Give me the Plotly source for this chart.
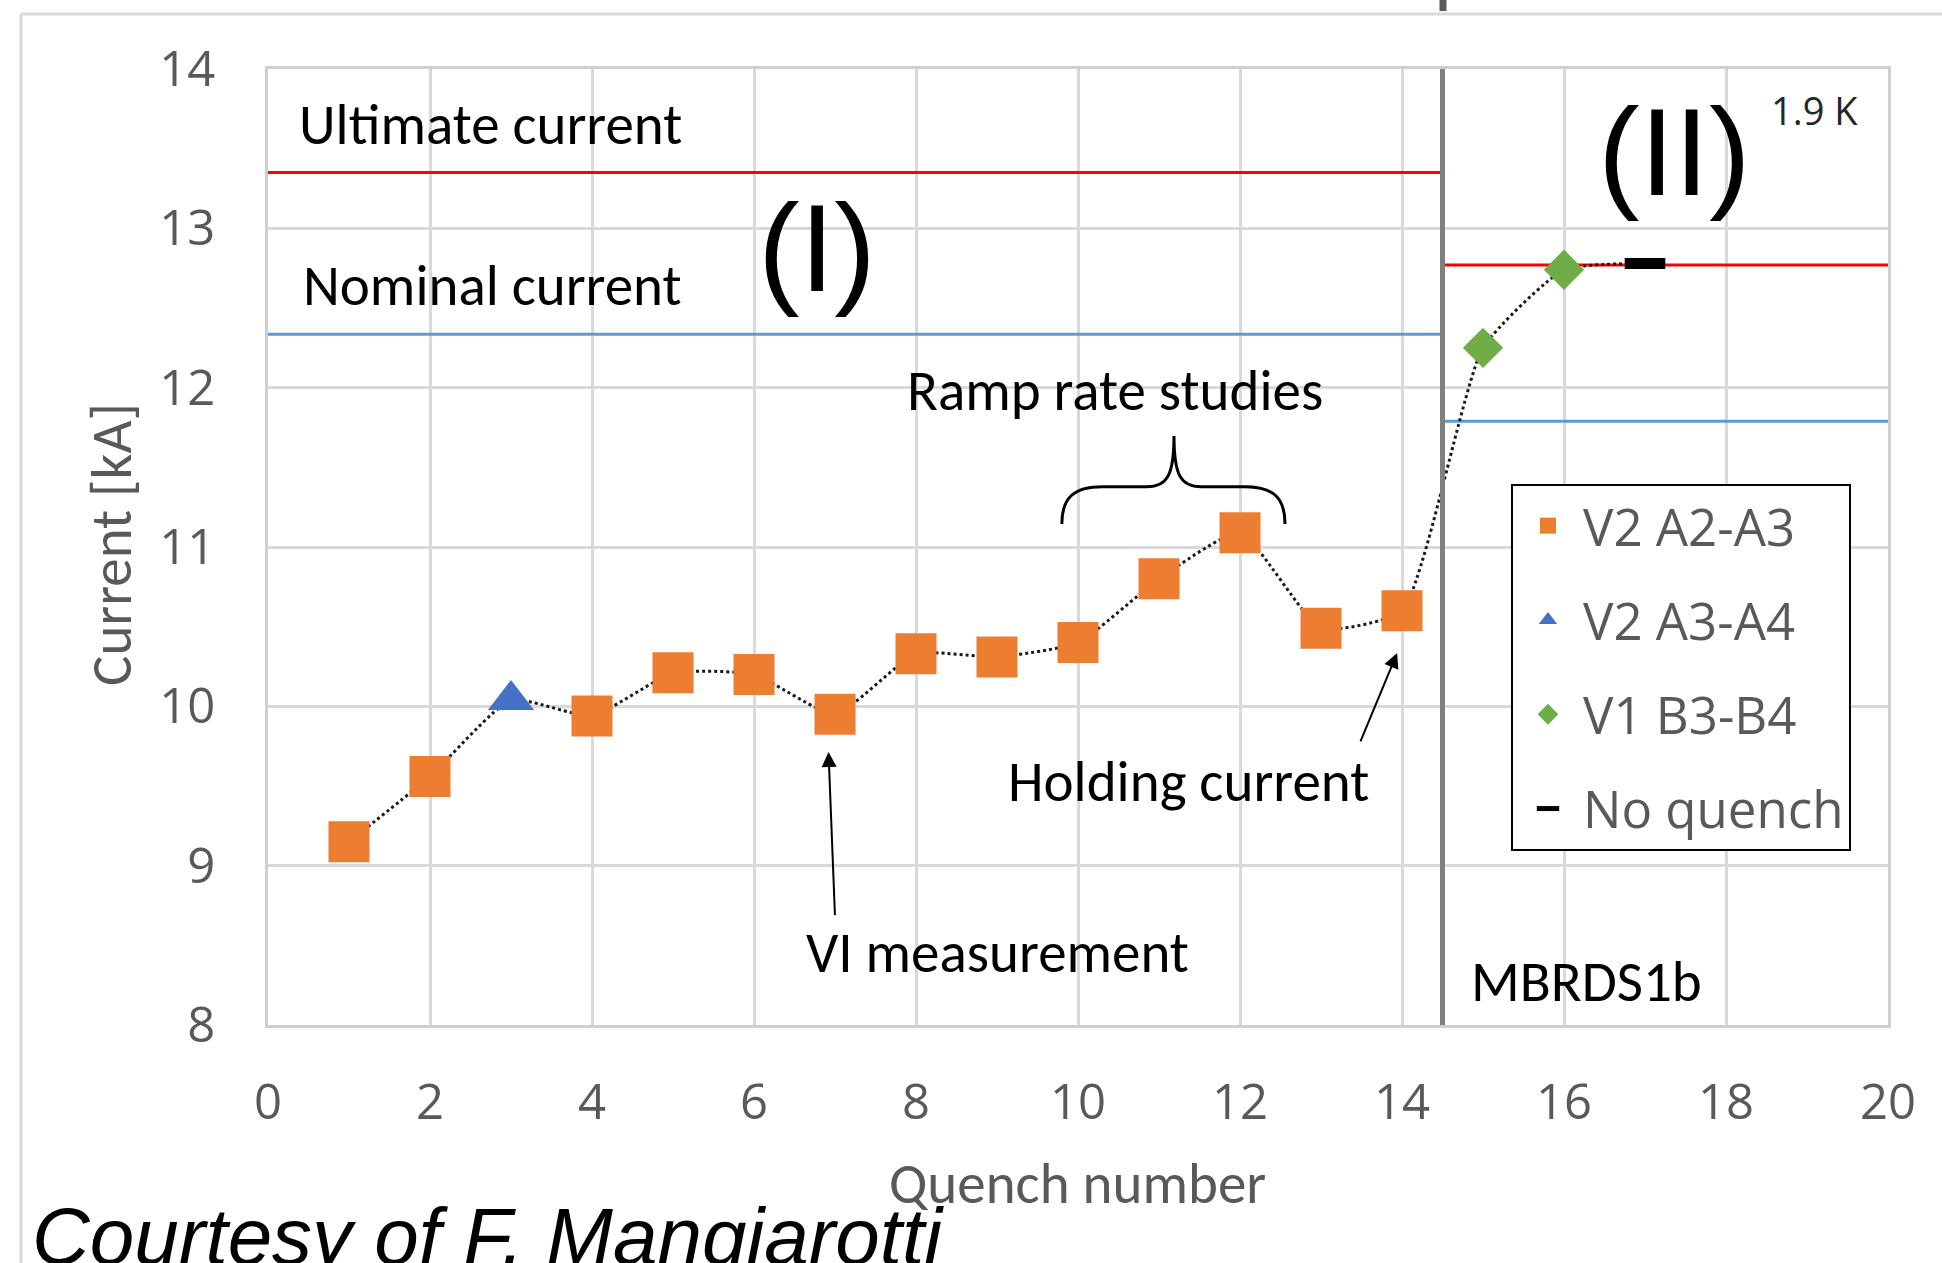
import plotly.graph_objects as go

# ---------------- data ----------------
q_a2a3 = [1, 2, 4, 5, 6, 7, 8, 9, 10, 11, 12, 13, 14]
i_a2a3 = [9.15, 9.56, 9.94, 10.21, 10.20, 9.95, 10.33, 10.31, 10.40, 10.80, 11.09, 10.49, 10.60]
q_a3a4 = [3]
i_a3a4 = [10.04]
q_b3b4 = [15, 16]
i_b3b4 = [12.25, 12.74]
q_noq = [17]
i_noq = [12.78]

# limit lines (region I: quench 0-14.5, region II: 14.5-20)
region_I_x = [0, 14.5]
region_II_x = [14.5, 20]
ultimate_I, nominal_I = 13.35, 12.335
ultimate_II, nominal_II = 12.77, 11.79
separator_x = 14.5

x_ticks = list(range(0, 21, 2))
y_ticks = list(range(8, 15))

# ---------------- layout geometry ----------------
W, H = 1942, 1263
L, R, T, B = 268, 1888, 69, 1025


def px_x(px):
    return (px - L) / (R - L)


def px_y(py):
    return (B - py) / (B - T)


LABEL_FONT = "Calibri, Carlito, Lato, sans-serif"
TICK_FONT = "Segoe UI, Open Sans, sans-serif"
LSIZE = 57

ORANGE = "#ED7D31"
BLUE = "#4472C4"
GREEN = "#70AD47"

fig = go.Figure()

# limit lines
fig.add_trace(go.Scatter(x=region_I_x, y=[ultimate_I] * 2, mode="lines",
                         line=dict(color="#FF0000", width=3), showlegend=False, hoverinfo="skip"))
fig.add_trace(go.Scatter(x=region_I_x, y=[nominal_I] * 2, mode="lines",
                         line=dict(color="#5B9BD5", width=3), showlegend=False, hoverinfo="skip"))
fig.add_trace(go.Scatter(x=region_II_x, y=[ultimate_II] * 2, mode="lines",
                         line=dict(color="#FF0000", width=3), showlegend=False, hoverinfo="skip"))
fig.add_trace(go.Scatter(x=region_II_x, y=[nominal_II] * 2, mode="lines",
                         line=dict(color="#5B9BD5", width=3), showlegend=False, hoverinfo="skip"))

# dotted connector through all quenches in order
pts = sorted(zip(q_a2a3 + q_a3a4 + q_b3b4 + q_noq, i_a2a3 + i_a3a4 + i_b3b4 + i_noq))
fig.add_trace(go.Scatter(x=[p[0] for p in pts], y=[p[1] for p in pts], mode="lines",
                         line=dict(color="#1a1a1a", width=3, dash="dot", shape="spline", smoothing=0.5),
                         showlegend=False, hoverinfo="skip"))

fig.add_trace(go.Scatter(x=q_a2a3, y=i_a2a3, mode="markers", name="V2 A2-A3", legendgroup="a",
                         marker=dict(symbol="square", size=41, color=ORANGE)))
fig.add_trace(go.Scatter(x=q_a3a4, y=i_a3a4, mode="markers", name="V2 A3-A4", legendgroup="b",
                         marker=dict(symbol="triangle-up", size=40, color=BLUE)))
fig.add_trace(go.Scatter(x=q_b3b4, y=i_b3b4, mode="markers", name="V1 B3-B4", legendgroup="c",
                         marker=dict(symbol="diamond", size=31, color=GREEN)))
fig.add_trace(go.Scatter(x=q_noq, y=i_noq, mode="markers", name="No quench", legendgroup="d",
                         marker=dict(symbol="line-ew", size=29, color="black",
                                     line=dict(color="black", width=11))))

# separator between the two magnets
fig.add_shape(type="line", xref="x", yref="y", x0=separator_x, x1=separator_x, y0=8, y1=14,
              line=dict(color="#7F7F7F", width=5))

# curly brace above ramp rate studies
fig.add_shape(type="path", xref="x", yref="y",
              path=("M 9.80,11.144 C 9.80,11.31 9.95,11.378 10.30,11.378 "
                    "L 10.85,11.378 C 11.10,11.378 11.185,11.45 11.185,11.697 "
                    "C 11.185,11.45 11.27,11.378 11.52,11.378 "
                    "L 12.06,11.378 C 12.41,11.378 12.556,11.31 12.556,11.144"),
              line=dict(color="black", width=3))

# outer frame of the picture
fig.add_shape(type="line", xref="paper", yref="paper", x0=px_x(21), x1=px_x(W + 5),
              y0=px_y(14), y1=px_y(14), line=dict(color="#D9D9D9", width=3))
fig.add_shape(type="line", xref="paper", yref="paper", x0=px_x(21), x1=px_x(21),
              y0=px_y(14), y1=px_y(H + 5), line=dict(color="#D9D9D9", width=3))
fig.add_shape(type="line", xref="paper", yref="paper", x0=px_x(1443), x1=px_x(1443),
              y0=px_y(-2), y1=px_y(11), line=dict(color="#5A5A5A", width=7))

ann = []


def text(x, y, s, size, xanchor="center", color="black", font=LABEL_FONT, **kw):
    ann.append(dict(x=x, y=y, xref="x", yref="y", text=s, showarrow=False, xanchor=xanchor,
                    yanchor="middle", font=dict(family=font, size=size, color=color), **kw))


text(0.36, 13.65, "Ultimate current", LSIZE, xanchor="left")
text(0.41, 12.64, "Nominal current", LSIZE, xanchor="left")
text(6.78, 12.88, "(I)", 125, font="Liberation Sans, Arial")
text(17.36, 13.485, "(II)", 125, font="Liberation Sans, Arial")
text(19.09, 13.74, "1.9 K", 38, color="#262626", font=TICK_FONT)
text(10.46, 11.98, "Ramp rate studies", LSIZE)
text(11.37, 9.53, "Holding current", LSIZE)
text(9.01, 8.455, "VI measurement", LSIZE)
text(14.83, 8.27, "MBRDS1b", LSIZE, xanchor="left")

# arrows
ann.append(dict(x=6.92, y=9.713, ax=7.0, ay=8.68, xref="x", yref="y", axref="x", ayref="y",
                showarrow=True, arrowhead=2, arrowsize=1.5, arrowwidth=2, arrowcolor="black", text=""))
ann.append(dict(x=13.94, y=10.335, ax=13.48, ay=9.77, xref="x", yref="y", axref="x", ayref="y",
                showarrow=True, arrowhead=2, arrowsize=1.5, arrowwidth=2, arrowcolor="black", text=""))

# axis titles
ann.append(dict(x=px_x(111), y=px_y(545), xref="paper", yref="paper", text="Current [kA]",
                textangle=-90, showarrow=False, xanchor="center", yanchor="middle",
                font=dict(family=LABEL_FONT, size=LSIZE, color="#595959")))
ann.append(dict(x=px_x(1077), y=px_y(1183), xref="paper", yref="paper", text="Quench number",
                showarrow=False, xanchor="center", yanchor="middle",
                font=dict(family=LABEL_FONT, size=LSIZE, color="#595959")))
# credit
ann.append(dict(x=px_x(30), y=px_y(1190), xref="paper", yref="paper", text="Courtesy of F. Mangiarotti",
                showarrow=False, xanchor="left", yanchor="top",
                font=dict(family="Liberation Sans, Arial", size=80, color="black", style="italic")))

fig.update_layout(
    width=W, height=H,
    margin=dict(l=L, r=W - R, t=T, b=H - B, pad=0),
    paper_bgcolor="white", plot_bgcolor="white",
    annotations=ann,
    showlegend=True,
    legend=dict(x=px_x(1511), y=px_y(484), xanchor="left", yanchor="top",
                bgcolor="white", bordercolor="black", borderwidth=2,
                font=dict(family=TICK_FONT, size=51, color="#595959"),
                tracegroupgap=25, itemwidth=60),
    xaxis=dict(range=[0, 20], tickvals=x_ticks, showgrid=True, gridcolor="#D9D9D9", gridwidth=3,
               zeroline=False, showline=True, linecolor="#CFCFCF", linewidth=3, mirror=True,
               ticks="", ticklabelstandoff=32,
               tickfont=dict(family=TICK_FONT, size=49, color="#595959")),
    yaxis=dict(range=[8, 14], tickvals=y_ticks, showgrid=True, gridcolor="#D9D9D9", gridwidth=3,
               zeroline=False, showline=True, linecolor="#CFCFCF", linewidth=3, mirror=True,
               ticks="", ticklabelstandoff=40,
               tickfont=dict(family=TICK_FONT, size=49, color="#595959")),
)

fig.write_html("out.html")
